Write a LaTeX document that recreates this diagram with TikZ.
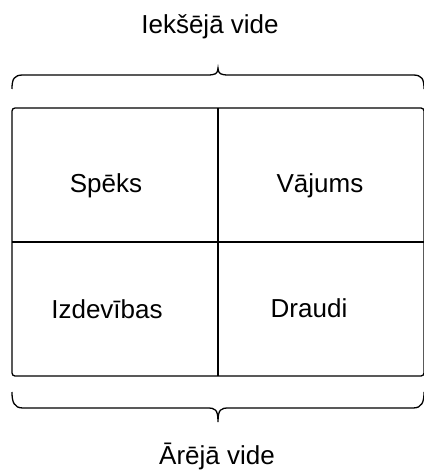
\documentclass[tikz,border=0pt]{standalone}
\usepackage{fontspec}
\setmainfont{Liberation Sans}
\tikzset{
  label text/.style={font=\fontsize{26}{31}\selectfont, anchor=base, inner sep=0pt},
  frame line/.style={line width=1.3pt},
}
\begin{document}
\begin{tikzpicture}[x=1pt, y=-1pt]
	\useasboundingbox (0,0) rectangle (423,473);

	% outer frame and the two dividing lines
	\draw [frame line, rounded corners=3pt] (12,108) rectangle (424,376);
	\draw [frame line] (218,108) -- (218,376);
	\draw [frame line] (12,242) -- (424,242);

	% upper brace
	\draw [frame line] (12,89) .. controls (12,79) and (14,75) .. (23,75) -- (207,75)
		.. controls (215,75) and (218,74) .. (218,68)
		.. controls (218,74) and (221,75) .. (229,75) -- (413,75)
		.. controls (422,75) and (424,79) .. (424,89);
	% lower brace
	\draw [frame line] (12,392) .. controls (12,402) and (14,408) .. (23,408) -- (207,408)
		.. controls (215,408) and (218,409) .. (218,422)
		.. controls (218,409) and (221,408) .. (229,408) -- (413,408)
		.. controls (422,408) and (424,402) .. (424,392);

	\node [label text] (inner) at (210,34) {Iekšējā vide};
	\node [label text] (outer) at (217,464) {Ārējā vide};

	\node [label text] (strengths) at (106,192) {Spēks};
	\node [label text] (weaknesses) at (320,192) {Vājums};
	\node [label text] (opportunities) at (107,318) {Izdevības};
	\node [label text] (threats) at (309,317) {Draudi};
\end{tikzpicture}
\end{document}
